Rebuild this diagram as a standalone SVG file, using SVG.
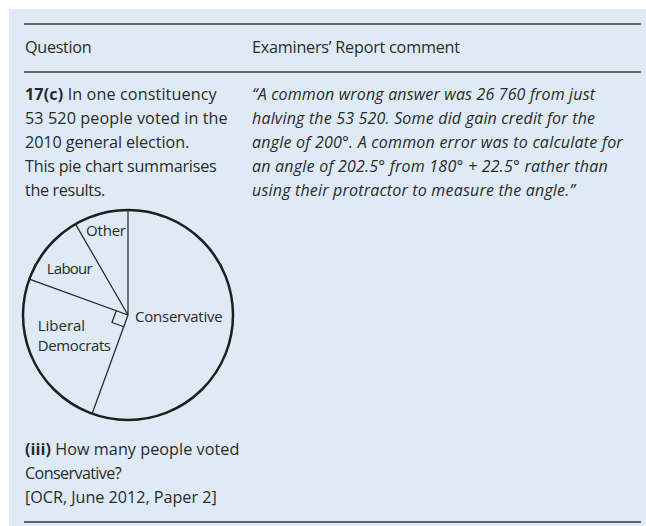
<svg xmlns="http://www.w3.org/2000/svg" width="646" height="526" viewBox="0 0 646 526">
<style>
text{font-family:"Open Sans","Noto Sans","Liberation Sans",sans-serif;fill:#2a2a2a}
.b{font-size:16.2px}
.it{font-size:16px;font-style:italic}
.lb{font-size:15px}
.rule{stroke:#3a3a3a;stroke-width:1.5}
.rad{stroke:#222;stroke-width:1.2;fill:none}
</style>
<rect x="9" y="9" width="637" height="517" fill="#deeaf6"/>
<g id="rules">
<line class="rule" x1="24" y1="24" x2="641" y2="24"/>
<line class="rule" x1="24" y1="72" x2="641" y2="72"/>
<line class="rule" x1="24" y1="522" x2="641" y2="522"/>
</g>
<g id="header">
<text class="b" x="25" y="53" textLength="66.7" lengthAdjust="spacing">Question</text>
<text class="b" x="252" y="53" textLength="208" lengthAdjust="spacing">Examiners’ Report comment</text>
</g>
<g id="question">
<text class="b" x="25" y="100" textLength="191.7" lengthAdjust="spacing"><tspan font-weight="bold">17(c)</tspan> In one constituency</text>
<text class="b" x="25" y="124" textLength="202.7" lengthAdjust="spacing">53 520 people voted in the</text>
<text class="b" x="25" y="148" textLength="164.3" lengthAdjust="spacing">2010 general election.</text>
<text class="b" x="25" y="172" textLength="191.7" lengthAdjust="spacing">This pie chart summarises</text>
<text class="b" x="25" y="196" textLength="80.3" lengthAdjust="spacing">the results.</text>
<text class="b" x="25" y="455" textLength="214.3" lengthAdjust="spacing"><tspan font-weight="bold">(iii)</tspan> How many people voted</text>
<text class="b" x="25" y="479" textLength="96.7" lengthAdjust="spacing">Conservative?</text>
<text class="b" x="25" y="503" textLength="191.7" lengthAdjust="spacing">[OCR, June 2012, Paper 2]</text>
</g>
<g id="comment">
<text class="it" x="252" y="100" textLength="343" lengthAdjust="spacing">“A common wrong answer was 26 760 from just</text>
<text class="it" x="252" y="124" textLength="343" lengthAdjust="spacing">halving the 53 520. Some did gain credit for the</text>
<text class="it" x="252" y="148" textLength="370.7" lengthAdjust="spacing">angle of 200°. A common error was to calculate for</text>
<text class="it" x="252" y="172" textLength="355.7" lengthAdjust="spacing">an angle of 202.5° from 180° + 22.5° rather than</text>
<text class="it" x="252" y="196" textLength="323" lengthAdjust="spacing">using their protractor to measure the angle.”</text>
</g>
<g id="pie">
<circle cx="128" cy="315" r="105" fill="none" stroke="#1e1e1e" stroke-width="2.5"/>
<line class="rad" x1="128" y1="315" x2="128" y2="210" stroke="#555"/>
<line class="rad" x1="128" y1="315" x2="75.5" y2="224.1"/>
<line class="rad" x1="128" y1="315" x2="29.3" y2="279.1"/>
<line class="rad" x1="128" y1="315" x2="92.1" y2="413.7"/>
<polyline class="rad" points="116.25,310.72 111.98,322.47 123.72,326.75"/>
<text class="lb" x="86" y="236" textLength="40" lengthAdjust="spacing">Other</text>
<text class="lb" x="46.7" y="274" textLength="46" lengthAdjust="spacing">Labour</text>
<text class="lb" x="135" y="322" textLength="87.7" lengthAdjust="spacing">Conservative</text>
<text class="lb" x="37.7" y="331">Liberal</text>
<text class="lb" x="37.7" y="351" textLength="73.3" lengthAdjust="spacing">Democrats</text>
</g>
</svg>
